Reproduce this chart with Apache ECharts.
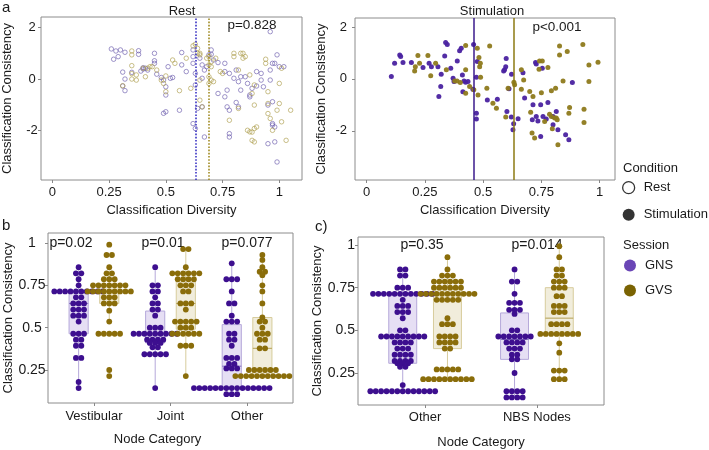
<!DOCTYPE html>
<html><head><meta charset="utf-8">
<script src="https://cdn.jsdelivr.net/npm/echarts@6/dist/echarts.min.js"></script>
<style>html,body{margin:0;padding:0;background:#fff}#c{width:709px;height:450px}</style>
</head><body><div id="c"></div>
<script>
// ---------- Panel a : scatter data [diversity, consistency] ----------
const restGNS = [[0.26,1.17],[0.27,0.77],[0.28,1.09],[0.30,1.13],[0.32,1.04],[0.29,0.87],[0.31,0.27],[0.32,0.00],[0.31,-0.27],[0.32,-0.45],[0.35,0.26],[0.38,1.10],[0.38,0.96],[0.40,0.39],[0.40,0.44],[0.41,0.42],[0.42,0.35],[0.39,0.31],[0.45,1.00],[0.45,0.71],[0.45,0.61],[0.46,0.19],[0.48,0.06],[0.49,-0.04],[0.50,-0.30],[0.50,-0.62],[0.50,-1.27],[0.49,-1.33],[0.51,0.48],[0.52,0.03],[0.53,0.06],[0.57,1.03],[0.56,-1.21],[0.57,0.55],[0.59,0.29],[0.62,0.87],[0.62,1.13],[0.62,0.61],[0.63,0.22],[0.63,-0.23],[0.62,-1.73],[0.63,-1.92],[0.64,-1.14],[0.65,0.81],[0.66,0.55],[0.66,0.03],[0.66,-1.08],[0.67,-2.25],[0.67,0.35],[0.68,0.48],[0.69,0.94],[0.70,0.96],[0.70,1.13],[0.71,0.74],[0.73,0.64],[0.73,-0.56],[0.76,0.61],[0.76,0.29],[0.76,-0.69],[0.77,-0.43],[0.77,-1.08],[0.78,-1.21],[0.78,-2.12],[0.78,-2.25],[0.78,0.22],[0.80,0.03],[0.81,0.35],[0.82,-0.10],[0.83,-0.43],[0.81,-0.91],[0.82,-1.08],[0.83,0.09],[0.85,0.09],[0.86,-0.17],[0.87,-0.62],[0.87,-0.69],[0.88,-0.36],[0.90,-0.27],[0.90,0.29],[0.92,-0.04],[0.93,-0.30],[0.95,-1.01],[0.96,-0.04],[0.96,0.35],[0.97,0.61],[0.98,0.61],[0.97,-1.73],[0.98,-1.86],[0.99,0.94],[1.00,0.48],[0.96,1.84],[0.97,-0.88],[1.02,0.48],[0.95,-2.51],[0.98,-2.44],[0.99,-3.22],[0.97,-1.79],[0.92,0.22]];
const restGVS = [[0.31,-0.26],[0.35,1.09],[0.35,0.94],[0.35,0.52],[0.35,0.21],[0.35,0.00],[0.37,0.16],[0.37,-0.04],[0.40,0.42],[0.41,0.09],[0.42,0.42],[0.43,0.48],[0.44,0.48],[0.46,0.35],[0.48,-0.04],[0.49,-0.17],[0.50,-0.49],[0.50,0.12],[0.53,0.74],[0.54,0.61],[0.56,-0.45],[0.59,0.81],[0.61,-0.36],[0.63,1.35],[0.64,1.00],[0.62,1.29],[0.64,1.19],[0.65,1.00],[0.65,0.94],[0.65,-0.04],[0.65,-0.82],[0.66,-1.08],[0.68,0.81],[0.69,0.55],[0.69,0.09],[0.69,-0.17],[0.69,0.87],[0.70,0.67],[0.70,-0.04],[0.71,-0.10],[0.70,0.48],[0.72,0.81],[0.74,0.29],[0.75,0.22],[0.78,-1.60],[0.80,1.00],[0.83,1.00],[0.84,0.81],[0.80,0.87],[0.82,-1.14],[0.82,0.35],[0.84,1.00],[0.85,0.87],[0.87,0.16],[0.88,-0.56],[0.89,-0.23],[0.86,-1.99],[0.87,-2.05],[0.88,-2.06],[0.89,-1.92],[0.90,-1.86],[0.88,-2.38],[0.89,-2.44],[0.94,0.77],[0.94,0.61],[0.95,-0.95],[0.95,-1.34],[0.96,-1.53],[0.97,-1.99],[0.99,-1.21],[1.00,-0.17],[1.00,-0.95],[1.01,-1.66],[1.03,-2.38],[1.01,0.42],[0.95,-0.49],[0.89,-1.01],[1.05,-1.21]];
const stimGNS = [[0.106,0.09],[0.120,0.60],[0.142,0.92],[0.146,0.86],[0.156,0.63],[0.192,0.63],[0.242,0.44],[0.268,0.60],[0.278,0.47],[0.306,0.47],[0.320,0.18],[0.318,-0.29],[0.310,-0.68],[0.335,0.88],[0.339,1.40],[0.346,1.33],[0.361,0.41],[0.371,0.03],[0.375,-0.10],[0.389,0.69],[0.399,1.09],[0.406,1.18],[0.411,0.15],[0.413,-0.50],[0.418,-0.08],[0.425,-0.13],[0.435,-0.10],[0.456,-0.40],[0.459,1.33],[0.471,0.06],[0.471,-1.32],[0.471,-1.55],[0.475,0.67],[0.518,-0.81],[0.561,-0.78],[0.588,0.31],[0.592,0.35],[0.597,0.47],[0.599,0.79],[0.611,-0.38],[0.602,-1.26],[0.621,-1.47],[0.622,0.18],[0.628,-1.96],[0.631,-1.73],[0.650,-1.54],[0.671,0.24],[0.678,-0.74],[0.714,-1.00],[0.725,0.63],[0.728,0.58],[0.747,-2.22],[0.728,-1.45],[0.735,-1.62],[0.754,0.41],[0.747,-1.00],[0.771,-1.55],[0.778,-0.91],[0.800,-1.45],[0.800,-1.77],[0.821,-1.96],[0.854,-2.15],[0.868,-2.35],[0.883,-0.14],[0.757,-1.45],[0.711,-1.58],[0.814,-1.26]];
const stimGVS = [[0.206,0.31],[0.209,0.47],[0.220,0.90],[0.227,0.60],[0.263,0.90],[0.275,0.12],[0.296,0.60],[0.342,0.35],[0.378,-0.08],[0.388,-0.08],[0.402,-0.14],[0.425,-0.55],[0.425,0.35],[0.425,1.29],[0.442,-0.29],[0.475,1.18],[0.482,0.83],[0.485,0.47],[0.489,0.06],[0.488,0.60],[0.460,-0.42],[0.478,-0.62],[0.528,1.27],[0.516,-0.36],[0.542,-0.94],[0.557,-1.13],[0.607,-0.36],[0.597,-1.47],[0.632,-0.13],[0.635,-0.23],[0.664,0.35],[0.664,-0.40],[0.674,-0.04],[0.700,-0.49],[0.704,-1.29],[0.714,-0.68],[0.710,-2.09],[0.721,-2.28],[0.742,0.69],[0.754,0.69],[0.740,0.37],[0.750,-0.53],[0.764,-1.64],[0.778,0.44],[0.793,-0.46],[0.793,-1.45],[0.797,-1.92],[0.785,-1.36],[0.807,-1.51],[0.814,-1.51],[0.818,-1.58],[0.821,-2.54],[0.811,-0.36],[0.828,1.27],[0.828,0.92],[0.843,-0.08],[0.861,1.06],[0.871,-1.10],[0.868,-1.32],[0.928,1.33],[0.933,-1.68],[0.933,-1.17],[0.954,0.54],[0.954,-0.10],[0.993,0.64]];
// session mean diversity lines
const restMean = {GNS: 0.63, GVS: 0.687};
const stimMean = {GNS: 0.463, GVS: 0.63};

// ---------- Panel b : consistency by node category ----------
const categoriesB = ['Vestibular', 'Joint', 'Other'];
const vestGNS = [0.857,0.821,0.821,0.786,0.75,0.714,0.714,0.714,0.714,0.714,0.714,0.714,0.714,0.714,0.714,0.679,0.679,0.643,0.643,0.643,0.607,0.607,0.607,0.571,0.571,0.571,0.536,0.464,0.464,0.464,0.429,0.429,0.393,0.393,0.321,0.321,0.179,0.143];
const vestGVS = [0.99,0.929,0.929,0.857,0.821,0.821,0.786,0.786,0.786,0.75,0.75,0.75,0.75,0.75,0.75,0.75,0.714,0.714,0.714,0.714,0.714,0.714,0.714,0.714,0.714,0.679,0.679,0.679,0.643,0.643,0.643,0.6,0.536,0.464,0.464,0.464,0.464,0.464,0.25,0.214];
const jointGNS = [0.857,0.75,0.75,0.714,0.714,0.679,0.643,0.643,0.607,0.607,0.571,0.5,0.5,0.5,0.464,0.464,0.464,0.464,0.464,0.464,0.464,0.464,0.464,0.429,0.429,0.429,0.429,0.41,0.41,0.41,0.384,0.384,0.343,0.343,0.343,0.343,0.343,0.143];
const jointGVS = [0.964,0.964,0.857,0.821,0.821,0.821,0.821,0.821,0.821,0.786,0.786,0.786,0.786,0.75,0.75,0.75,0.714,0.714,0.643,0.643,0.643,0.607,0.536,0.536,0.536,0.536,0.536,0.5,0.5,0.5,0.464,0.464,0.464,0.464,0.464,0.464,0.393,0.393,0.393,0.214];
const otherGNS = [0.88,0.786,0.786,0.786,0.714,0.643,0.643,0.571,0.536,0.536,0.536,0.464,0.464,0.429,0.429,0.393,0.321,0.321,0.321,0.286,0.286,0.259,0.259,0.259,0.143,0.143,0.143,0.143,0.143,0.143,0.143,0.143,0.143,0.143,0.143,0.143,0.143,0.143,0.143,0.107,0.107,0.107];
const otherGVS = [0.929,0.9,0.857,0.83,0.83,0.81,0.75,0.714,0.643,0.56,0.536,0.536,0.5,0.464,0.464,0.464,0.429,0.429,0.378,0.378,0.25,0.25,0.25,0.25,0.25,0.25,0.214,0.214,0.214,0.214,0.214,0.214,0.214,0.214,0.214,0.214,0.214];
const pValuesB = ['p=0.02', 'p=0.01', 'p=0.077'];

// ---------- Panel c ----------
const categoriesC = ['Other', 'NBS Nodes'];
const cOtherGNS = [0.857,0.857,0.821,0.821,0.75,0.75,0.75,0.714,0.714,0.714,0.714,0.714,0.714,0.714,0.714,0.714,0.714,0.714,0.714,0.679,0.643,0.643,0.643,0.607,0.607,0.607,0.571,0.5,0.5,0.464,0.464,0.464,0.464,0.464,0.464,0.464,0.464,0.464,0.429,0.429,0.429,0.429,0.393,0.393,0.393,0.357,0.357,0.357,0.357,0.321,0.321,0.321,0.321,0.307,0.307,0.307,0.286,0.286,0.179,0.143,0.143,0.143,0.143,0.143,0.143,0.143,0.143,0.143,0.143,0.143,0.143,0.143];
const cOtherGVS = [0.929,0.857,0.821,0.821,0.821,0.786,0.786,0.786,0.786,0.786,0.786,0.75,0.75,0.75,0.75,0.75,0.75,0.714,0.714,0.714,0.714,0.714,0.714,0.714,0.714,0.714,0.714,0.714,0.679,0.679,0.679,0.679,0.679,0.571,0.536,0.536,0.536,0.464,0.464,0.464,0.464,0.429,0.429,0.429,0.429,0.393,0.393,0.271,0.271,0.271,0.271,0.271,0.214,0.214,0.214,0.214,0.214,0.214,0.214,0.214,0.214,0.214];
const nbsGNS = [0.857,0.786,0.786,0.714,0.661,0.661,0.661,0.62,0.62,0.62,0.596,0.5,0.5,0.464,0.464,0.464,0.464,0.464,0.464,0.464,0.429,0.429,0.429,0.429,0.393,0.393,0.393,0.357,0.357,0.33,0.33,0.25,0.143,0.143,0.143,0.143,0.107,0.107,0.107,0.107];
const nbsGVS = [0.993,0.929,0.857,0.857,0.821,0.821,0.786,0.786,0.786,0.75,0.75,0.75,0.7,0.7,0.643,0.643,0.643,0.607,0.607,0.607,0.536,0.536,0.536,0.536,0.479,0.479,0.479,0.479,0.479,0.479,0.479,0.479,0.424,0.369,0.264,0.264,0.264,0.214,0.214,0.214];
const pValuesC = ['p=0.35', 'p=0.014'];

// ---------- ticks ----------
const xTicksA = [0, 0.25, 0.5, 0.75, 1];
const yTicksA = [-2, 0, 2];
const yTicksBC = [0.25, 0.5, 0.75, 1];

// ---------- helpers ----------
const FONT = 'Liberation Sans, Arial, sans-serif';
const TXT = '#1a1a1a';
const C = {
  gns: '#3d0f8f', gvs: '#8a6d0a',
  gnsBox: 'rgba(221,212,240,0.75)', gnsEdge: '#b5a8da', gnsMed: '#8472bf',
  gvsBox: 'rgba(236,231,208,0.75)', gvsEdge: '#d7cc9c', gvsMed: '#b39f52'
};
const DODGE = 0.2, BOXW = 0.25;

function swarm(vals, center, step) {
  const groups = new Map();
  vals.forEach(v => { const k = v.toFixed(3); if (!groups.has(k)) groups.set(k, []); groups.get(k).push(v); });
  const out = [];
  groups.forEach(arr => { const n = arr.length; arr.forEach((v, j) => out.push([center + (j - (n - 1) / 2) * step, v])); });
  return out;
}
function stats(vals) {
  const s = [...vals].sort((a, b) => a - b);
  const q = p => { const h = (s.length - 1) * p, lo = Math.floor(h), hi = Math.min(lo + 1, s.length - 1); return s[lo] + (h - lo) * (s[hi] - s[lo]); };
  const q1 = q(0.25), med = q(0.5), q3 = q(0.75), iqr = q3 - q1;
  const lo = s.find(v => v >= q1 - 1.5 * iqr);
  const hi = [...s].reverse().find(v => v <= q3 + 1.5 * iqr);
  return [lo, q1, med, q3, hi];
}
function boxRender(fill, edge, medColor) {
  return function (params, api) {
    const x = api.value(0);
    const pLo = api.coord([x, api.value(1)]), pQ1 = api.coord([x, api.value(2)]), pMed = api.coord([x, api.value(3)]),
          pQ3 = api.coord([x, api.value(4)]), pHi = api.coord([x, api.value(5)]);
    const half = api.size([BOXW, 0])[0] / 2;
    return { type: 'group', children: [
      { type: 'line', shape: { x1: pLo[0], y1: pLo[1], x2: pQ1[0], y2: pQ1[1] }, style: { stroke: edge, lineWidth: 1 } },
      { type: 'line', shape: { x1: pQ3[0], y1: pQ3[1], x2: pHi[0], y2: pHi[1] }, style: { stroke: edge, lineWidth: 1 } },
      { type: 'rect', shape: { x: pQ1[0] - half, y: pQ3[1], width: half * 2, height: pQ1[1] - pQ3[1] }, style: { fill: fill, stroke: edge, lineWidth: 1 } },
      { type: 'line', shape: { x1: pMed[0] - half, y1: pMed[1], x2: pMed[0] + half, y2: pMed[1] }, style: { stroke: medColor, lineWidth: 1 } }
    ] };
  };
}

// grid geometry
const G = [
  { left: 40, top: 17, width: 262, height: 163 },
  { left: 355, top: 18, width: 260, height: 162 },
  { left: 48, top: 233, width: 245, height: 170 },
  { left: 358, top: 237, width: 246, height: 168 }
];
const xRangeB = [0.4, 3.6], xRangeC = [0.4, 2.6];
const DOTPX = 5.4;
const stepB = DOTPX * (xRangeB[1] - xRangeB[0]) / G[2].width;
const stepC = DOTPX * (xRangeC[1] - xRangeC[0]) / G[3].width;

const groupsB = { GNS: [vestGNS, jointGNS, otherGNS], GVS: [vestGVS, jointGVS, otherGVS] };
const groupsC = { GNS: [cOtherGNS, nbsGNS], GVS: [cOtherGVS, nbsGVS] };
function dots(groups, step, off) { return groups.flatMap((vals, i) => swarm(vals, i + 1 + off, step)); }
function boxes(groups, off) { return groups.map((vals, i) => [i + 1 + off, ...stats(vals)]); }

const tickStyle = { show: true, length: 3, lineStyle: { color: '#888', width: 1 } };
function valAxisX(gi, min, max, ticks, extra) {
  return Object.assign({ gridIndex: gi, type: 'value', min, max, axisLine: { show: false, onZero: false }, splitLine: { show: false },
    axisTick: Object.assign({ customValues: ticks }, tickStyle),
    axisLabel: { customValues: ticks, fontSize: 13, color: TXT, fontFamily: FONT, margin: 6 },
    nameLocation: 'middle', nameTextStyle: { fontSize: 13, color: TXT, fontFamily: FONT } }, extra);
}
function valAxisY(gi, min, max, ticks, extra) {
  return Object.assign({ gridIndex: gi, type: 'value', min, max, axisLine: { show: false, onZero: false }, splitLine: { show: false },
    axisTick: Object.assign({ customValues: ticks }, tickStyle),
    axisLabel: { customValues: ticks, fontSize: 13, color: TXT, fontFamily: FONT, margin: 5 },
    name: 'Classification Consistency', nameLocation: 'middle', nameRotate: 90,
    nameTextStyle: { fontSize: 13, color: TXT, fontFamily: FONT } }, extra);
}

const chart = echarts.init(document.getElementById('c'), null, { renderer: 'canvas' });
const gridBorder = { show: true, borderColor: '#8c8c8c', borderWidth: 1, backgroundColor: '#fff' };

const option = {
  backgroundColor: '#fff',
  animation: false,
  textStyle: { fontFamily: FONT },
  grid: G.map(g => Object.assign({}, g, gridBorder)),
  title: [
    { text: 'Rest', left: 177, top: 0, textAlign: 'center', textStyle: { fontSize: 13, fontWeight: 'normal', color: TXT, fontFamily: FONT } },
    { text: 'Stimulation', left: 487, top: 0, textAlign: 'center', textStyle: { fontSize: 13, fontWeight: 'normal', color: TXT, fontFamily: FONT } }
  ],
  xAxis: [
    valAxisX(0, -0.05, 1.1, xTicksA, { name: 'Classification Diversity', nameGap: 24 }),
    valAxisX(1, -0.05, 1.066, xTicksA, { name: 'Classification Diversity', nameGap: 24 }),
    valAxisX(2, xRangeB[0], xRangeB[1], [1, 2, 3], { name: 'Node Category', nameGap: 30,
      nameTextStyle: { fontSize: 13, color: TXT, fontFamily: FONT, padding: [0, 26, 0, 0] },
      axisLabel: { customValues: [1, 2, 3], fontSize: 13, color: TXT, fontFamily: FONT, margin: 7, formatter: v => categoriesB[Math.round(v) - 1] } }),
    valAxisX(3, xRangeC[0], xRangeC[1], [1, 2], { name: 'Node Category', nameGap: 31,
      axisLabel: { customValues: [1, 2], fontSize: 13, color: TXT, fontFamily: FONT, margin: 6, formatter: v => categoriesC[Math.round(v) - 1] } })
  ],
  yAxis: [
    valAxisY(0, -3.92, 2.41, yTicksA, { nameGap: 27, axisLabel: { customValues: yTicksA, fontSize: 13, color: TXT, fontFamily: FONT, margin: 9, align: 'center' } }),
    valAxisY(1, -3.9, 2.35, yTicksA, { nameGap: 27, axisLabel: { customValues: yTicksA, fontSize: 13, color: TXT, fontFamily: FONT, margin: 8 } }),
    valAxisY(2, 0.055, 1.059, yTicksBC, { nameGap: 33, axisLabel: { customValues: yTicksBC, fontSize: 14, color: TXT, fontFamily: FONT, margin: 16, align: 'center' } }),
    valAxisY(3, 0.0625, 1.047, yTicksBC, { nameGap: 32, axisLabel: { customValues: yTicksBC, fontSize: 14, color: TXT, fontFamily: FONT, margin: 3 } })
  ],
  legend: [
    { orient: 'vertical', left: 622, top: 181, padding: 0, itemWidth: 12, itemHeight: 12, itemGap: 14, selectedMode: false,
      textStyle: { fontSize: 13, color: TXT, fontFamily: FONT, padding: [0, 0, 0, 4] },
      data: [ { name: 'Rest', icon: 'circle', itemStyle: { color: '#fff', borderColor: '#000', borderWidth: 1.3 } },
              { name: 'Stimulation', icon: 'circle', itemStyle: { color: '#000', borderWidth: 0 } } ] },
    { orient: 'vertical', left: 624, top: 259, padding: 0, itemWidth: 12, itemHeight: 12, itemGap: 12, selectedMode: false,
      textStyle: { fontSize: 13, color: TXT, fontFamily: FONT, padding: [0, 0, 0, 4] },
      data: [ { name: 'GNS', icon: 'circle', itemStyle: { color: '#6a46b6', borderWidth: 0 } },
              { name: 'GVS', icon: 'circle', itemStyle: { color: '#7a6302', borderWidth: 0 } } ] }
  ],
  graphic: [
    { type: 'text', left: 2, top: 0, style: { text: 'a', fontSize: 15, fill: TXT, fontFamily: FONT } },
    { type: 'text', left: 2, top: 218, style: { text: 'b', fontSize: 15, fill: TXT, fontFamily: FONT } },
    { type: 'text', left: 315, top: 219, style: { text: 'c)', fontSize: 15, fill: TXT, fontFamily: FONT } },
    { type: 'text', x: 252, y: 25, style: { text: 'p=0.828', fontSize: 13.5, fill: TXT, fontFamily: FONT, align: 'center', verticalAlign: 'middle' } },
    { type: 'text', x: 557, y: 27, style: { text: 'p<0.001', fontSize: 13.5, fill: TXT, fontFamily: FONT, align: 'center', verticalAlign: 'middle' } },
    ...pValuesB.map((t, i) => ({ type: 'text', x: [71, 163, 247][i], y: 243, style: { text: t, fontSize: 14, fill: TXT, fontFamily: FONT, align: 'center', verticalAlign: 'middle' } })),
    ...pValuesC.map((t, i) => ({ type: 'text', x: [422, 537][i], y: 245, style: { text: t, fontSize: 14, fill: TXT, fontFamily: FONT, align: 'center', verticalAlign: 'middle' } })),
    { type: 'text', x: 623, y: 168, style: { text: 'Condition', fontSize: 13, fill: TXT, fontFamily: FONT, verticalAlign: 'middle' } },
    { type: 'text', x: 623, y: 245, style: { text: 'Session', fontSize: 13, fill: TXT, fontFamily: FONT, verticalAlign: 'middle' } }
  ],
  series: [
    // legend-only series
    { type: 'scatter', name: 'Rest', xAxisIndex: 0, yAxisIndex: 0, data: [] },
    { type: 'scatter', name: 'Stimulation', xAxisIndex: 1, yAxisIndex: 1, data: [] },
    // panel a, Rest
    { type: 'scatter', name: 'GNS', xAxisIndex: 0, yAxisIndex: 0, data: restGNS, symbolSize: 4.5,
      itemStyle: { color: 'rgba(255,255,255,0)', borderColor: 'rgba(110,95,175,0.75)', borderWidth: 0.9, opacity: 1 },
      markLine: { silent: true, symbol: 'none', label: { show: false }, lineStyle: { color: '#3a32c4', type: 'dotted', width: 1.6 }, data: [{ xAxis: restMean.GNS }] } },
    { type: 'scatter', name: 'GVS', xAxisIndex: 0, yAxisIndex: 0, data: restGVS, symbolSize: 4.5,
      itemStyle: { color: 'rgba(255,255,255,0)', borderColor: 'rgba(175,160,80,0.75)', borderWidth: 0.9, opacity: 1 },
      markLine: { silent: true, symbol: 'none', label: { show: false }, lineStyle: { color: '#a08a22', type: 'dotted', width: 1.6 }, data: [{ xAxis: restMean.GVS }] } },
    // panel a, Stimulation
    { type: 'scatter', name: 'GNS', xAxisIndex: 1, yAxisIndex: 1, data: stimGNS, symbolSize: 5,
      itemStyle: { color: '#4a22a0', opacity: 0.95 },
      markLine: { silent: true, symbol: 'none', label: { show: false }, lineStyle: { color: '#3b1a8c', type: 'solid', width: 1.5 }, data: [{ xAxis: stimMean.GNS }] } },
    { type: 'scatter', name: 'GVS', xAxisIndex: 1, yAxisIndex: 1, data: stimGVS, symbolSize: 5,
      itemStyle: { color: '#8e7a1c', opacity: 0.95 },
      markLine: { silent: true, symbol: 'none', label: { show: false }, lineStyle: { color: '#8c7a12', type: 'solid', width: 1.5 }, data: [{ xAxis: stimMean.GVS }] } },
    // panel b boxes
    { type: 'custom', name: 'GNS', xAxisIndex: 2, yAxisIndex: 2, z: 1, renderItem: boxRender(C.gnsBox, C.gnsEdge, C.gnsMed), encode: { x: 0, y: [1, 2, 3, 4, 5] }, data: boxes(groupsB.GNS, -DODGE) },
    { type: 'custom', name: 'GVS', xAxisIndex: 2, yAxisIndex: 2, z: 1, renderItem: boxRender(C.gvsBox, C.gvsEdge, C.gvsMed), encode: { x: 0, y: [1, 2, 3, 4, 5] }, data: boxes(groupsB.GVS, DODGE) },
    { type: 'scatter', name: 'GNS', xAxisIndex: 2, yAxisIndex: 2, z: 3, symbolSize: 5.8, itemStyle: { color: C.gns, opacity: 1 }, data: dots(groupsB.GNS, stepB, -DODGE) },
    { type: 'scatter', name: 'GVS', xAxisIndex: 2, yAxisIndex: 2, z: 3, symbolSize: 5.8, itemStyle: { color: C.gvs, opacity: 1 }, data: dots(groupsB.GVS, stepB, DODGE) },
    // panel c
    { type: 'custom', name: 'GNS', xAxisIndex: 3, yAxisIndex: 3, z: 1, renderItem: boxRender(C.gnsBox, C.gnsEdge, C.gnsMed), encode: { x: 0, y: [1, 2, 3, 4, 5] }, data: boxes(groupsC.GNS, -DODGE) },
    { type: 'custom', name: 'GVS', xAxisIndex: 3, yAxisIndex: 3, z: 1, renderItem: boxRender(C.gvsBox, C.gvsEdge, C.gvsMed), encode: { x: 0, y: [1, 2, 3, 4, 5] }, data: boxes(groupsC.GVS, DODGE) },
    { type: 'scatter', name: 'GNS', xAxisIndex: 3, yAxisIndex: 3, z: 3, symbolSize: 5.8, itemStyle: { color: C.gns, opacity: 1 }, data: dots(groupsC.GNS, stepC, -DODGE) },
    { type: 'scatter', name: 'GVS', xAxisIndex: 3, yAxisIndex: 3, z: 3, symbolSize: 5.8, itemStyle: { color: C.gvs, opacity: 1 }, data: dots(groupsC.GVS, stepC, DODGE) }
  ]
};
chart.setOption(option);
</script></body></html>
